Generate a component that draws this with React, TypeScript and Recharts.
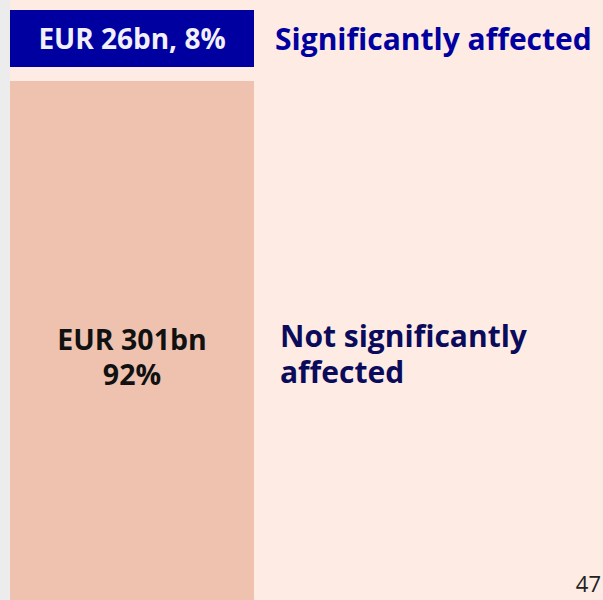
import { BarChart, Bar, XAxis, YAxis, LabelList } from 'recharts';

const categories = ['Exposure'];
const significantValues = [26];
const notSignificantValues = [301];
const seriesNames = ['Significantly affected', 'Not significantly affected'];
const significantLabel = 'EUR 26bn, 8%';
const notSignificantLabel = ['EUR 301bn', '92%'];
const notSignificantNameLines = ['Not significantly', 'affected'];
const pageNumber = '47';

const data = categories.map((name, i) => ({
  name,
  significant: significantValues[i],
  notSignificant: notSignificantValues[i],
}));

const FONT = '"Open Sans", sans-serif';
const GAP = 14;

const SalmonShape = (props: any) => {
  const { x, y, width, height } = props;
  return <rect x={x} y={y + GAP} width={width} height={Math.max(0, height - GAP)} fill="#efc2b0" />;
};

const significantLabelContent = (props: any) => {
  const { x, y, width, height } = props;
  const cy = y + height / 2 + 10;
  return (
    <g>
      <text x={x + width / 2} y={cy} textAnchor="middle" fill="#f1eff8" fontFamily={FONT} fontWeight={700} fontSize={28}>
        {significantLabel}
      </text>
      <text x={x + width + 21} y={cy + 1} fill="#0000a0" fontFamily={FONT} fontWeight={700} fontSize={30}>
        {seriesNames[0]}
      </text>
    </g>
  );
};

const notSignificantLabelContent = (props: any) => {
  const { x, y, width } = props;
  const top = y + GAP;
  const cx = x + width / 2;
  const nx = x + width + 26;
  return (
    <g>
      <text textAnchor="middle" fill="#111" fontFamily={FONT} fontWeight={700} fontSize={28.5}>
        <tspan x={cx} y={top + 269}>{notSignificantLabel[0]}</tspan>
        <tspan x={cx} y={top + 304}>{notSignificantLabel[1]}</tspan>
      </text>
      <text fill="#0b0b5c" fontFamily={FONT} fontWeight={700} fontSize={30}>
        <tspan x={nx} y={top + 266}>{notSignificantNameLines[0]}</tspan>
        <tspan x={nx} y={top + 302}>{notSignificantNameLines[1]}</tspan>
      </text>
    </g>
  );
};

export default function App() {
  return (
    <div
      style={{
        position: 'fixed',
        left: 0,
        top: 0,
        width: 603,
        height: 600,
        overflow: 'hidden',
        background: '#fdebe4',
      }}
    >
      <div style={{ position: 'absolute', left: 0, top: 0, width: 10, height: 600, background: '#ececec' }} />
      <div style={{ position: 'absolute', left: 0, top: 0 }}>
        <BarChart
          width={603}
          height={727}
          data={data}
          margin={{ top: 10, right: 349, bottom: 0, left: 10 }}
          barCategoryGap={0}
        >
          <XAxis dataKey="name" hide />
          <YAxis hide domain={[0, 327]} />
          <Bar
            dataKey="notSignificant"
            name={seriesNames[1]}
            stackId="a"
            fill="#efc2b0"
            shape={SalmonShape}
            isAnimationActive={false}
          >
            <LabelList dataKey="notSignificant" content={notSignificantLabelContent} />
          </Bar>
          <Bar dataKey="significant" name={seriesNames[0]} stackId="a" fill="#0000a0" isAnimationActive={false}>
            <LabelList dataKey="significant" content={significantLabelContent} />
          </Bar>
        </BarChart>
      </div>
      <div
        style={{
          position: 'absolute',
          right: 2,
          top: 568,
          fontFamily: FONT,
          fontSize: 22,
          color: '#222',
        }}
      >
        {pageNumber}
      </div>
    </div>
  );
}
